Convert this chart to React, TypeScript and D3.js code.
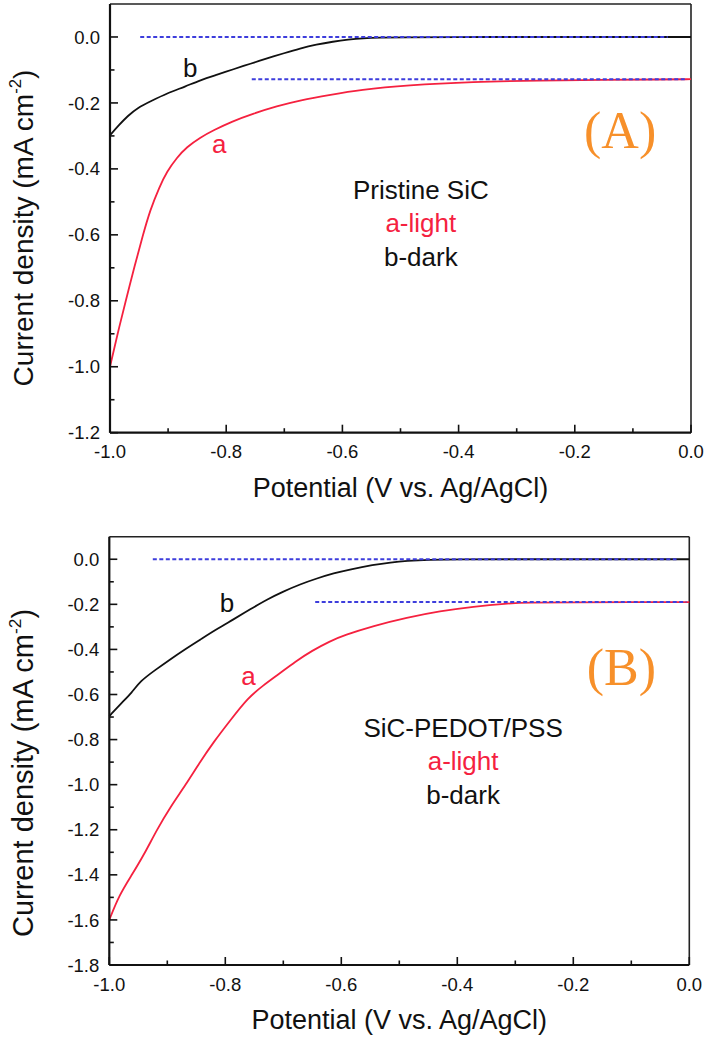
import React from "react";
import * as d3 from "d3";

// ---------- Data ----------
// Panel A: Pristine SiC
const potA_dark = [-1.0, -0.985, -0.97, -0.952, -0.93, -0.902, -0.87, -0.845, -0.815, -0.788, -0.758, -0.73, -0.7, -0.673, -0.645, -0.616, -0.59, -0.565, -0.535, -0.5, -0.4, -0.3, -0.2, -0.1, 0.0];
const curA_dark = [-0.298, -0.268, -0.24, -0.214, -0.195, -0.171, -0.15, -0.131, -0.114, -0.098, -0.081, -0.065, -0.049, -0.035, -0.023, -0.014, -0.008, -0.004, -0.002, -0.001, 0, 0, 0, 0, 0];
const potA_light = [-1.0, -0.987, -0.974, -0.957, -0.944, -0.931, -0.915, -0.902, -0.885, -0.868, -0.845, -0.822, -0.79, -0.753, -0.713, -0.673, -0.62, -0.57, -0.489, -0.375, -0.26, -0.15, -0.05, 0.0];
const curA_light = [-1.0, -0.9, -0.808, -0.69, -0.605, -0.525, -0.455, -0.408, -0.366, -0.334, -0.305, -0.283, -0.256, -0.232, -0.21, -0.192, -0.175, -0.16, -0.146, -0.136, -0.132, -0.13, -0.129, -0.128];

// Panel B: SiC-PEDOT/PSS
const potB_dark = [-1.0, -0.98, -0.961, -0.947, -0.92, -0.895, -0.87, -0.843, -0.815, -0.786, -0.757, -0.728, -0.7, -0.671, -0.642, -0.613, -0.585, -0.545, -0.515, -0.487, -0.45, -0.4, -0.3, -0.2, -0.1, 0.0];
const curB_dark = [-0.696, -0.64, -0.592, -0.541, -0.49, -0.444, -0.4, -0.356, -0.31, -0.267, -0.222, -0.178, -0.143, -0.111, -0.085, -0.062, -0.045, -0.025, -0.014, -0.007, -0.002, 0, 0, 0, 0, 0];
const potB_light = [-1.0, -0.983, -0.961, -0.94, -0.918, -0.895, -0.868, -0.845, -0.82, -0.79, -0.761, -0.735, -0.707, -0.68, -0.65, -0.62, -0.595, -0.545, -0.487, -0.43, -0.372, -0.315, -0.28, -0.2, -0.1, 0.0];
const curB_light = [-1.6, -1.49, -1.4, -1.31, -1.2, -1.1, -1.0, -0.905, -0.81, -0.71, -0.615, -0.56, -0.508, -0.455, -0.405, -0.364, -0.337, -0.296, -0.259, -0.23, -0.21, -0.196, -0.192, -0.191, -0.19, -0.19];

// Reference (dashed) levels: [level, from, to]
const refA = [
  [0, -0.948, -0.04],
  [-0.128, -0.756, -0.007],
];
const refB = [
  [0, -0.925, -0.022],
  [-0.19, -0.645, -0.005],
];

const xTicks = [-1.0, -0.8, -0.6, -0.4, -0.2, 0.0];
const xMinor = [-0.9, -0.7, -0.5, -0.3, -0.1];
const yTicksA = [-1.2, -1.0, -0.8, -0.6, -0.4, -0.2, 0.0];
const yMinorA = [-1.1, -0.9, -0.7, -0.5, -0.3, -0.1];
const yTicksB = [-1.8, -1.6, -1.4, -1.2, -1.0, -0.8, -0.6, -0.4, -0.2, 0.0];
const yMinorB = [-1.7, -1.5, -1.3, -1.1, -0.9, -0.7, -0.5, -0.3, -0.1];

const xTitle = "Potential (V vs. Ag/AgCl)";
const sampleA = "Pristine SiC";
const sampleB = "SiC-PEDOT/PSS";
const legendLight = "a-light";
const legendDark = "b-dark";

// ---------- Styles ----------
const RED = "#f5213f";
const BLUE = "#3d3ddc";
const ORANGE = "#f7902a";
const SANS = "'Liberation Sans', Arial, sans-serif";
const SERIF = "'Liberation Serif', 'Times New Roman', serif";

type PanelProps = {
  left: number; right: number; top: number; bottom: number;
  yDomain: [number, number];
  yTicks: number[]; yMinor: number[];
  dark: [number[], number[]]; light: [number[], number[]];
  refs: number[][];
  tag: string; sample: string;
  ann: { bx: number; by: number; ax: number; ay: number; tagX: number; tagY: number; sx: number; sy: number };
  titleCenterY: number;
  titleFont: number;
};

const fmt = (v: number) => (Math.abs(v) < 1e-9 ? "0.0" : v.toFixed(1));

function Panel(p: PanelProps) {
  const x = d3.scaleLinear().domain([-1, 0]).range([p.left, p.right]);
  const y = d3.scaleLinear().domain(p.yDomain).range([p.bottom, p.top]);
  const line = d3
    .line<[number, number]>()
    .x((d) => x(d[0]))
    .y((d) => y(d[1]))
    .curve(d3.curveBasis);
  const zip = (a: number[], b: number[]) => a.map((v, i) => [v, b[i]] as [number, number]);
  const darkPath = line(zip(p.dark[0], p.dark[1])) || "";
  const lightPath = line(zip(p.light[0], p.light[1])) || "";
  const midX = (p.left + p.right) / 2;

  return (
    <g>
      {/* frame top / right */}
      <line x1={p.left} x2={p.right} y1={p.top} y2={p.top} stroke="#222" strokeWidth={1.6} />
      <line x1={p.right} x2={p.right} y1={p.top} y2={p.bottom} stroke="#222" strokeWidth={1.6} />
      {/* curves */}
      <path d={darkPath} fill="none" stroke="#111" strokeWidth={1.8} />
      <path d={lightPath} fill="none" stroke={RED} strokeWidth={1.8} />
      {/* reference dashed lines */}
      {p.refs.map((r, i) => (
        <line key={"r" + i} x1={x(r[1])} x2={x(r[2])} y1={y(r[0])} y2={y(r[0])}
          stroke={BLUE} strokeWidth={1.9} strokeDasharray="4,2.5" />
      ))}
      {/* axes */}
      <line x1={p.left} x2={p.left} y1={p.top} y2={p.bottom} stroke="#111" strokeWidth={2.2} />
      <line x1={p.left} x2={p.right} y1={p.bottom} y2={p.bottom} stroke="#111" strokeWidth={2.2} />
      {xTicks.map((t) => (
        <g key={"xt" + t}>
          <line x1={x(t)} x2={x(t)} y1={p.bottom} y2={p.bottom - 8} stroke="#111" strokeWidth={1.6} />
          <text x={x(t)} y={p.bottom + 25.5} textAnchor="middle" fontFamily={SANS} fontSize={18.5} fill="#111">{fmt(t)}</text>
        </g>
      ))}
      {xMinor.map((t) => (
        <line key={"xm" + t} x1={x(t)} x2={x(t)} y1={p.bottom} y2={p.bottom - 4.5} stroke="#111" strokeWidth={1.6} />
      ))}
      {p.yTicks.map((t) => (
        <g key={"yt" + t}>
          <line x1={p.left} x2={p.left + 8} y1={y(t)} y2={y(t)} stroke="#111" strokeWidth={1.6} />
          <text x={p.left - 10} y={y(t) + 6.6} textAnchor="end" fontFamily={SANS} fontSize={18.5} fill="#111">{fmt(t)}</text>
        </g>
      ))}
      {p.yMinor.map((t) => (
        <line key={"ym" + t} x1={p.left} x2={p.left + 4.5} y1={y(t)} y2={y(t)} stroke="#111" strokeWidth={1.6} />
      ))}
      {/* axis titles */}
      <text x={midX} y={p.bottom + 64} textAnchor="middle" fontFamily={SANS} fontSize={27} fill="#111">{xTitle}</text>
      <text transform={`translate(33,${p.titleCenterY}) rotate(-90)`} textAnchor="middle" fontFamily={SANS} fontSize={p.titleFont} fill="#111">
        Current density (mA cm<tspan fontSize={p.titleFont * 0.6} dy={-p.titleFont * 0.42}>-2</tspan><tspan dy={p.titleFont * 0.42}>)</tspan>
      </text>
      {/* annotations */}
      <text x={x(p.ann.bx)} y={y(p.ann.by)} textAnchor="middle" fontFamily={SANS} fontSize={26} fill="#111">b</text>
      <text x={x(p.ann.ax)} y={y(p.ann.ay)} textAnchor="middle" fontFamily={SANS} fontSize={26} fill={RED}>a</text>
      <text x={x(p.ann.tagX)} y={y(p.ann.tagY)} textAnchor="middle" fontFamily={SERIF} fontSize={52} fill={ORANGE}>{p.tag}</text>
      <text x={x(p.ann.sx)} y={y(p.ann.sy)} textAnchor="middle" fontFamily={SANS} fontSize={26} fill="#111">{p.sample}</text>
      <text x={x(p.ann.sx)} y={y(p.ann.sy) + 33} textAnchor="middle" fontFamily={SANS} fontSize={26} fill={RED}>{legendLight}</text>
      <text x={x(p.ann.sx)} y={y(p.ann.sy) + 67} textAnchor="middle" fontFamily={SANS} fontSize={26} fill="#111">{legendDark}</text>
    </g>
  );
}

export default function App() {
  return (
    <svg width={707} height={1040} style={{ position: "absolute", left: 0, top: 0, background: "#fff" }}>
      <rect width={707} height={1040} fill="#fff" />
      <Panel
        left={110} right={691} top={4} bottom={432.7}
        yDomain={[-1.2, 0.1]} yTicks={yTicksA} yMinor={yMinorA}
        dark={[potA_dark, curA_dark]} light={[potA_light, curA_light]}
        refs={refA} tag="(A)" sample={sampleA}
        ann={{ bx: -0.862, by: -0.122, ax: -0.812, ay: -0.352, tagX: -0.122, tagY: -0.338, sx: -0.465, sy: -0.492 }}
        titleCenterY={228} titleFont={28}
      />
      <Panel
        left={109.3} right={689.3} top={536.7} bottom={965}
        yDomain={[-1.8, 0.1]} yTicks={yTicksB} yMinor={yMinorB}
        dark={[potB_dark, curB_dark]} light={[potB_light, curB_light]}
        refs={refB} tag="(B)" sample={sampleB}
        ann={{ bx: -0.797, by: -0.236, ax: -0.76, ay: -0.56, tagX: -0.117, tagY: -0.56, sx: -0.39, sy: -0.787 }}
        titleCenterY={773} titleFont={29}
      />
    </svg>
  );
}
